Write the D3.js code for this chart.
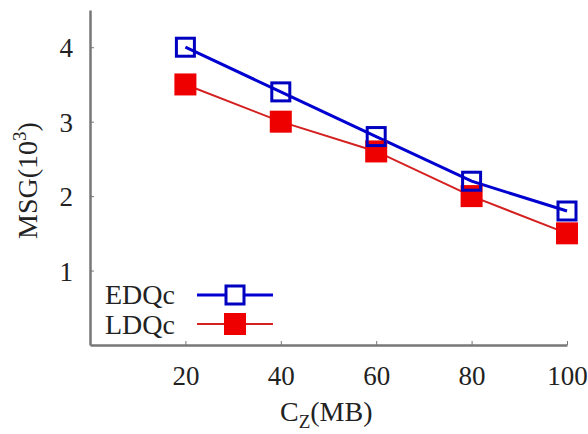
<!DOCTYPE html>
<html lang="en">
<head>
    <meta charset="UTF-8">
    <title>MSG vs CZ</title>
    <script src="https://d3js.org/d3.v7.min.js"></script>
    <style>
        body { margin: 0; background: #fff; }
        svg { display: block; }
        text { font-family: "Liberation Serif", "DejaVu Serif", serif; fill: #222; }
        .axis path, .axis line { stroke: #777; }
    </style>
</head>
<body>
    <svg width="588" height="434"></svg>
    <script>
        // data
        var sizes = [20, 40, 60, 80, 100];
        var edqc = [4.0, 3.4, 2.8, 2.2, 1.8];
        var ldqc = [3.5, 3.0, 2.6, 2.0, 1.5];
        var yTicks = [1, 2, 3, 4];

        var fs = 27, fl = 28;
        var svg = d3.select("svg");

        var x = d3.scaleLinear().domain([0, 100]).range([90, 567]);
        var y = d3.scaleLinear().domain([0, 4.5]).range([345, 10]);

        // axes, ticks point inward
        var xAxis = d3.axisBottom(x).tickValues(sizes).tickFormat(d3.format("d"))
            .tickSize(-4).tickSizeOuter(0).tickPadding(21);
        var yAxis = d3.axisLeft(y).tickValues(yTicks).tickFormat(d3.format("d"))
            .tickSize(-4).tickSizeOuter(0).tickPadding(17);

        svg.append("g").attr("class", "axis").attr("transform", "translate(0,345)").call(xAxis)
            .call(g => g.select(".domain").attr("stroke-width", 2.5))
            .selectAll("text").attr("font-size", fs).attr("dy", "0.71em");
        svg.append("g").attr("class", "axis").attr("transform", "translate(90,0)").call(yAxis)
            .call(g => g.select(".domain").attr("stroke-width", 2.5))
            .selectAll("text").attr("font-size", fs).attr("dy", "0.35em");

        svg.selectAll(".axis text").attr("font-family", "Liberation Serif, serif").attr("fill", "#222");

        // axis titles
        var xt = svg.append("text").attr("x", 280).attr("y", 421).attr("font-size", fl);
        xt.append("tspan").text("C");
        xt.append("tspan").attr("font-size", 19).attr("dy", 7).text("Z");
        xt.append("tspan").attr("dy", -7).text("(MB)");

        var yt = svg.append("text").attr("transform", "translate(37,239) rotate(-90)").attr("font-size", fl);
        yt.append("tspan").text("MSG(10");
        yt.append("tspan").attr("font-size", 19).attr("dy", -11).text("3");
        yt.append("tspan").attr("dy", 11).text(")");

        var line = d3.line().x((d, i) => x(sizes[i])).y(d => y(d));

        svg.append("path").datum(ldqc).attr("d", line)
            .attr("fill", "none").attr("stroke", "#d42020").attr("stroke-width", 2);
        svg.append("path").datum(edqc).attr("d", line)
            .attr("fill", "none").attr("stroke", "#0000d0").attr("stroke-width", 3);

        var rs = 22, bs = 18;
        svg.selectAll("rect.ld").data(ldqc).enter().append("rect").attr("class", "ld")
            .attr("x", (d, i) => x(sizes[i]) - rs / 2).attr("y", d => y(d) - rs / 2)
            .attr("width", rs).attr("height", rs).attr("fill", "#ee0000");
        svg.selectAll("rect.ed").data(edqc).enter().append("rect").attr("class", "ed")
            .attr("x", (d, i) => x(sizes[i]) - bs / 2).attr("y", d => y(d) - bs / 2)
            .attr("width", bs).attr("height", bs).attr("fill", "none")
            .attr("stroke", "#0000c0").attr("stroke-width", 3);

        // legend
        var lg = svg.append("g");
        lg.append("text").attr("x", 105).attr("y", 304).attr("font-size", fl).text("EDQc");
        lg.append("line").attr("x1", 197).attr("x2", 273).attr("y1", 295).attr("y2", 295)
            .attr("stroke", "#0000d0").attr("stroke-width", 3);
        lg.append("rect").attr("x", 235 - bs / 2).attr("y", 295 - bs / 2).attr("width", bs).attr("height", bs)
            .attr("fill", "#fff").attr("stroke", "#0000c0").attr("stroke-width", 3);
        lg.append("text").attr("x", 105).attr("y", 334).attr("font-size", fl).text("LDQc");
        lg.append("line").attr("x1", 197).attr("x2", 273).attr("y1", 324).attr("y2", 324)
            .attr("stroke", "#d42020").attr("stroke-width", 2);
        lg.append("rect").attr("x", 235 - rs / 2).attr("y", 324 - rs / 2).attr("width", rs).attr("height", rs)
            .attr("fill", "#ee0000");
    </script>
</body>
</html>
